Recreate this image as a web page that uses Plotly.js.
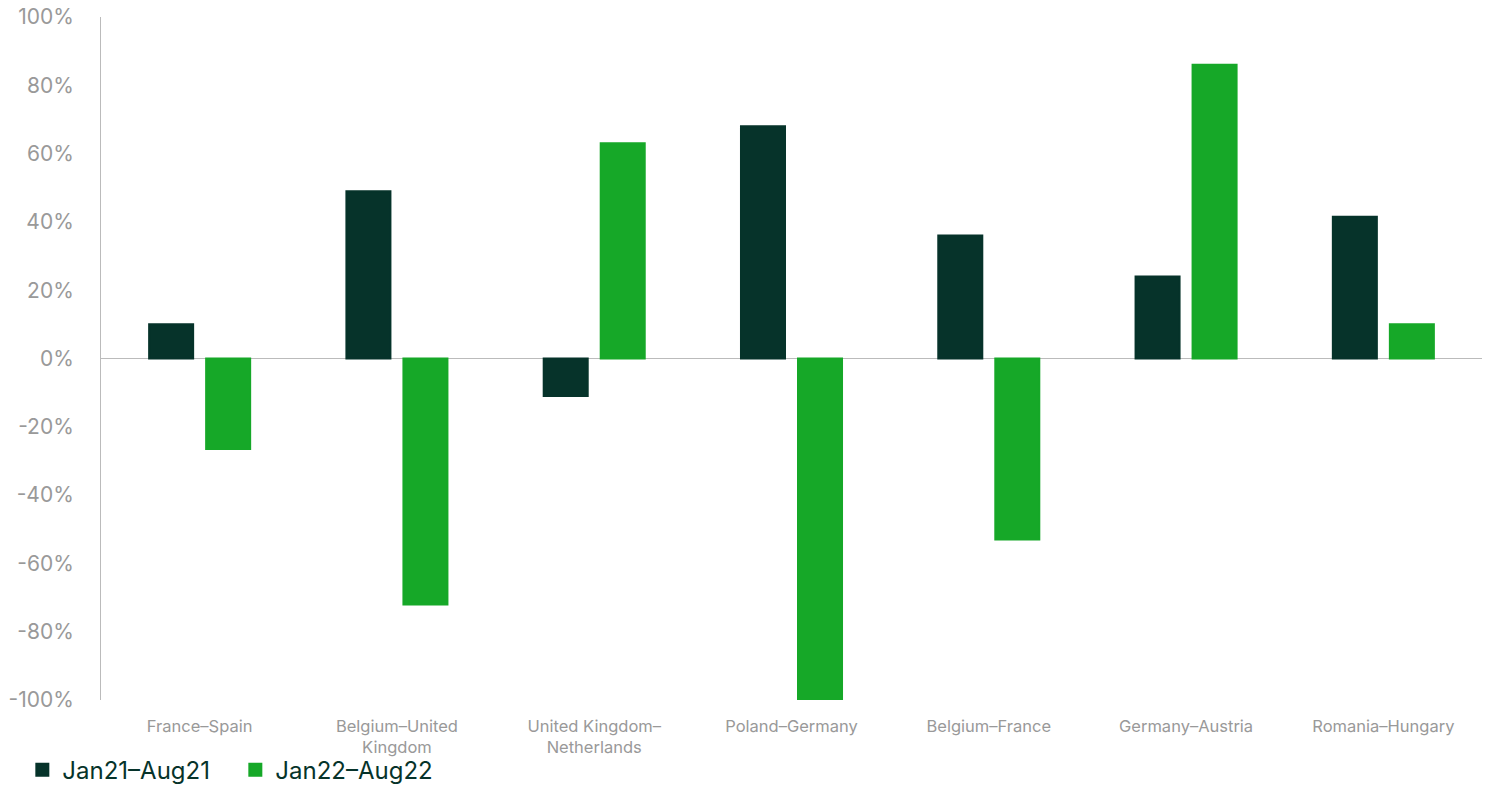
<!DOCTYPE html>
<html><head><meta charset="utf-8">
<script src="https://cdn.plot.ly/plotly-3.0.1.min.js"></script>
<style>html,body{margin:0;padding:0;background:#fff}#chart{width:1489px;height:785px}</style>
</head><body><div id="chart"></div>
<script>
const categories = ["France–Spain","Belgium–United<br>Kingdom","United Kingdom–<br>Netherlands","Poland–Germany","Belgium–France","Germany–Austria","Romania–Hungary"];
const series1Name = "Jan21–Aug21";
const series2Name = "Jan22–Aug22";
const series1 = [10, 49, -11, 68, 36, 24, 41.5];
const series2 = [-26.5, -72, 63, -101, -53, 86, 10];
const yTickVals = [-100,-80,-60,-40,-20,0,20,40,60,80,100];
const yTickText = yTickVals.map(v => v + "%");

const data = [
  {type:'bar', name:series1Name, x:categories, y:series1, marker:{color:'#06332a', line:{color:'#06332a', width:2}}},
  {type:'bar', name:series2Name, x:categories, y:series2, marker:{color:'#16a828', line:{color:'#16a828', width:2}}}
];
const layout = {
  width:1489, height:785,
  margin:{l:101, r:7, t:17, b:85, autoexpand:false},
  paper_bgcolor:'#fff', plot_bgcolor:'#fff',
  barmode:'group', bargap:0.422, bargroupgap:0.228,
  font:{family:'Inter, Roboto, sans-serif', color:'#999'},
  xaxis:{showline:false, showgrid:false, ticks:'', tickfont:{size:16.5, color:'#999'}, ticklabelstandoff:14, automargin:false},
  yaxis:{range:[-100,100], tickvals:yTickVals, ticktext:yTickText, showgrid:false, automargin:false,
         showline:true, linecolor:'#bbb', linewidth:1, zeroline:true, zerolinecolor:'#bbb', zerolinewidth:1,
         tickfont:{size:21, color:'#999'}, ticklabelstandoff:22, ticks:''},
  legend:{orientation:'h', xref:'container', yref:'container', x:0.015, y:0.019, xanchor:'left', yanchor:'middle',
          bgcolor:'rgba(0,0,0,0)', font:{size:24, color:'#06332a'}, traceorder:'normal', itemwidth:30,
          entrywidth:168, entrywidthmode:'pixels'},
  showlegend:true
};
Plotly.newPlot('chart', data, layout, {displayModeBar:false, staticPlot:true});
</script></body></html>
